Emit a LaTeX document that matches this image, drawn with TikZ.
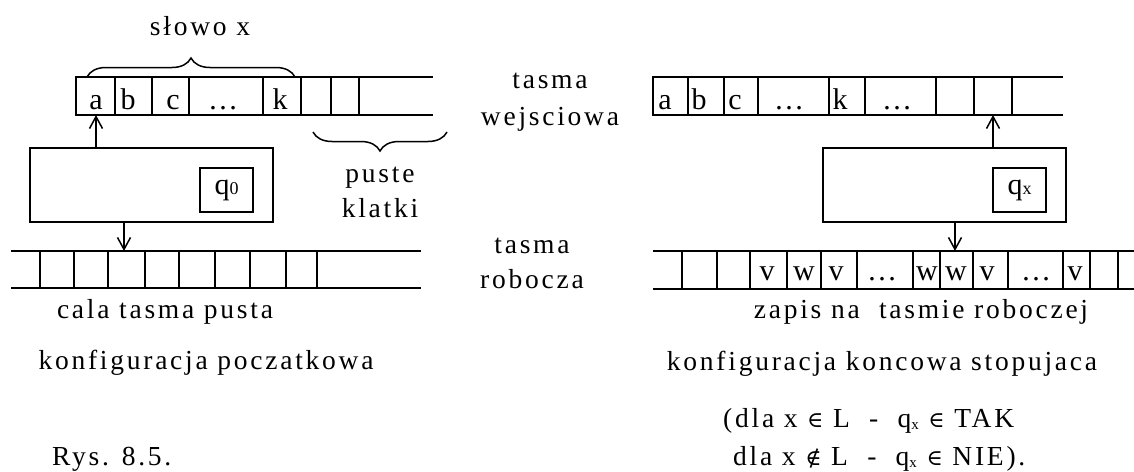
\documentclass[tikz,border=0pt]{standalone}
\usepackage{fontspec}
\setmainfont{Liberation Serif}[LetterSpace=10]
\newfontfamily\cellfont{Liberation Serif}
\newfontfamily\relfont{DejaVu Serif}
\usetikzlibrary{arrows.meta,decorations.pathreplacing}

\newcommand{\lowsub}[1]{\raisebox{-2pt}{\fontsize{15}{15}\selectfont #1}}
\newcommand{\elem}{{\relfont\fontsize{22}{22}\selectfont ∈}}
\newcommand{\notelem}{{\relfont\fontsize{22}{22}\selectfont ∉}}

\begin{document}
\begin{tikzpicture}[x=1pt,y=-1pt,
  tape/.style={line width=1.5pt},
  lbl/.style={font=\fontsize{27.5}{30}\selectfont, inner sep=0pt, anchor=base},
  sym/.style={font=\cellfont\fontsize{30}{32}\selectfont, inner sep=0pt, anchor=base},
  head/.style={draw, line width=1.5pt, inner sep=0pt, minimum width=243pt, minimum height=74pt},
  statebox/.style={draw, line width=1.2pt, inner sep=0pt, minimum width=53pt, minimum height=44pt,
    font=\cellfont\fontsize{30}{32}\selectfont},
  move/.style={line width=1.5pt, -{Straight Barb[length=12pt,width=13pt,line width=1.5pt]}},
  curly/.style={line width=1.5pt, decorate, decoration={brace, amplitude=19pt}}]

\useasboundingbox (0,0) rectangle (1134,471);

% ---------- initial configuration ----------
% input tape
\draw[tape] (433,77) -- (76,77) -- (76,115) -- (433,115);
\foreach \x in {115,152,189,263,301,331,359} \draw[tape] (\x,77) -- (\x,115);
\node[sym] (ia) at (96,109) {a};
\node[sym] (ib) at (128,109) {b};
\node[sym] (ic) at (173,109) {c};
\node[sym] (idots) at (223,109) {…};
\node[sym] (ik) at (280,109) {k};

% braces over the word and under the blank cells
\coordinate (wordS) at (87,77);
\coordinate (wordE) at (295,77);
\draw[curly] (wordS) -- (wordE);
\node[lbl] (word) at (200,35) {słowo x};
\coordinate (blankS) at (313,132);
\coordinate (blankE) at (447,132);
\draw[curly] (blankE) -- (blankS);
\node[lbl] (blank1) at (380,182) {puste};
\node[lbl] (blank2) at (380,217) {klatki};

% control unit
\node[head] (ctrlL) at (151.5,185) {};
\node[statebox] (stateL) at (226.5,190) {q{\fontsize{18}{18}\selectfont 0}};
\coordinate (inL) at (96,115);
\draw[move] (ctrlL.north -| inL) -- (inL);

% work tape
\draw[tape] (11,251) -- (421,251);
\draw[tape] (11,288) -- (421,288);
\foreach \x in {40,74,108,145,179,215,250,286,317} \draw[tape] (\x,251) -- (\x,288);
\coordinate (wkL) at (124,251);
\draw[move] (ctrlL.south -| wkL) -- (wkL);

\node[lbl] (emptyW) at (165,318) {cala tasma pusta};
\node[lbl] (startC) at (206,369) {konfiguracja poczatkowa};

% ---------- tape names ----------
\node[lbl] (inName1) at (550,88) {tasma};
\node[lbl] (inName2) at (550,125) {wejsciowa};
\node[lbl] (wkName1) at (532,253) {tasma};
\node[lbl] (wkName2) at (532,288) {robocza};

% ---------- final configuration ----------
\draw[tape] (1063,77) -- (653,77) -- (653,115) -- (1063,115);
\foreach \x in {688,724,758,829,865,936,974,1012} \draw[tape] (\x,77) -- (\x,115);
\node[sym] (fa) at (665,109) {a};
\node[sym] (fb) at (699,109) {b};
\node[sym] (fc) at (735,109) {c};
\node[sym] (fdots1) at (789,109) {…};
\node[sym] (fk) at (840,109) {k};
\node[sym] (fdots2) at (897,109) {…};

\node[head] (ctrlR) at (944.5,185) {};
\node[statebox] (stateR) at (1019.5,190) {q{\fontsize{18}{18}\selectfont x}};
\coordinate (inR) at (993,115);
\draw[move] (ctrlR.north -| inR) -- (inR);

\draw[tape] (653,251) -- (1134,251);
\draw[tape] (653,289) -- (1134,289);
\foreach \x in {682,717,750,787,821,857,913,940,973,1008,1063,1090,1118} \draw[tape] (\x,251) -- (\x,289);
\coordinate (wkR) at (955,251);
\draw[move] (ctrlR.south -| wkR) -- (wkR);
\node[sym] (w1) at (767,280) {v};
\node[sym] (w2) at (804,280) {w};
\node[sym] (w3) at (836,280) {v};
\node[sym] (w4) at (882,280) {…};
\node[sym] (w5) at (927,280) {w};
\node[sym] (w6) at (956,280) {w};
\node[sym] (w7) at (987,280) {v};
\node[sym] (w8) at (1036,280) {…};
\node[sym] (w9) at (1075,280) {v};

\node[lbl] (workW) at (921,318) {zapis na\ \ tasmie roboczej};
\node[lbl] (endC) at (882,370) {konfiguracja koncowa stopujaca};
\node[lbl, anchor=base west] (accept) at (723,427)
  {(dla x \elem{} L\ \ -\ \ q\lowsub{x} \elem{} TAK};
\node[lbl, anchor=base west] (reject) at (733,465)
  {dla x \notelem{} L\ \ -\ \ q\lowsub{x} \elem{} NIE).};

\node[lbl, anchor=base west] (caption) at (52,465) {Rys. 8.5.};
\end{tikzpicture}
\end{document}
